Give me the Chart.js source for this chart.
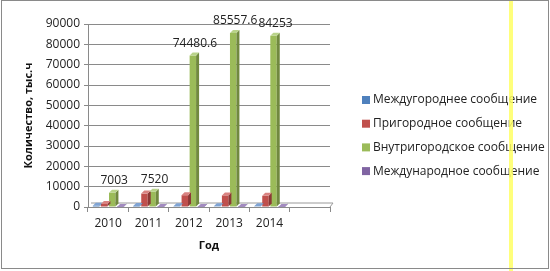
<!DOCTYPE html>
<html lang="ru">
<head>
    <meta charset="UTF-8">
    <title>Количество, тыс.ч</title>
    <style>
        html, body {
            margin: 0;
            padding: 0;
            background: #ffffff;
        }
        #wrap {
            width: 550px;
            height: 271px;
        }
    </style>
    <script src="https://cdn.jsdelivr.net/npm/chart.js"></script>
</head>
<body>
    <div id="wrap">
        <canvas id="chart" width="550" height="271"></canvas>
    </div>

    <script>
        // data
        const years = ['2010', '2011', '2012', '2013', '2014', ''];
        const seriesNames = ['Междугороднее сообщение', 'Пригородное сообщение', 'Внутригородское сообщение', 'Международное сообщение'];
        const intercity = [600, 500, 400, 350, 350];
        const suburban = [1500, 6600, 5800, 5700, 5500];
        const urban = [7003, 7520, 74480.6, 85557.6, 84253];
        const international = [40, 40, 40, 40, 40];
        const yTicks = [0, 10000, 20000, 30000, 40000, 50000, 60000, 70000, 80000, 90000];

        const colors = ['#4F81BD', '#C0504D', '#9BBB59', '#8064A2'];
        const sideColors = ['#385D8A', '#8C3836', '#71893F', '#5C4776'];
        const topColors = ['#7FA3D3', '#D98381', '#B9D38A', '#A28BC0'];
        const font = '"Open Sans", "DejaVu Sans", sans-serif';

        // fake 3D: side and top faces on each bar
        const bars3d = {
            id: 'bars3d',
            afterDatasetsDraw(chart) {
                const ctx = chart.ctx;
                const d = 3;
                chart.data.datasets.forEach((ds, i) => {
                    const meta = chart.getDatasetMeta(i);
                    meta.data.forEach(bar => {
                        const w = bar.width;
                        const l = bar.x - w / 2, r = bar.x + w / 2;
                        const t = bar.y, b = bar.base;
                        ctx.save();
                        ctx.fillStyle = sideColors[i];
                        ctx.beginPath();
                        ctx.moveTo(r, t); ctx.lineTo(r + d, t - d);
                        ctx.lineTo(r + d, b - d); ctx.lineTo(r, b);
                        ctx.closePath(); ctx.fill();
                        ctx.fillStyle = topColors[i];
                        ctx.beginPath();
                        ctx.moveTo(l, t); ctx.lineTo(l + d, t - d);
                        ctx.lineTo(r + d, t - d); ctx.lineTo(r, t);
                        ctx.closePath(); ctx.fill();
                        ctx.restore();
                    });
                });
                // value labels for the urban series
                const meta = chart.getDatasetMeta(2);
                ctx.save();
                ctx.font = '12px ' + font;
                ctx.fillStyle = '#222';
                ctx.textAlign = 'center';
                ctx.textBaseline = 'middle';
                meta.data.forEach((bar, j) => {
                    ctx.fillText(String(urban[j]), bar.x + 2, bar.y - 12);
                });
                ctx.restore();
            }
        };

        // legend, frame, floor
        const extras = {
            id: 'extras',
            beforeDraw(chart) {
                const ctx = chart.ctx;
                const a = chart.chartArea;
                ctx.save();
                ctx.strokeStyle = '#9a9a9a';
                ctx.lineWidth = 1;
                ctx.beginPath();
                ctx.moveTo(a.right, a.bottom);
                ctx.lineTo(a.right + 3, a.bottom - 4);
                ctx.lineTo(a.left + 3, a.bottom - 4);
                ctx.stroke();
                ctx.restore();
            },
            afterDraw(chart) {
                const ctx = chart.ctx;
                ctx.save();
                ctx.font = '12px ' + font;
                ctx.textBaseline = 'middle';
                seriesNames.forEach((name, i) => {
                    const y = 100 + i * 23.7;
                    ctx.fillStyle = colors[i];
                    ctx.fillRect(362, y - 4, 8, 8);
                    ctx.fillStyle = '#222';
                    ctx.fillText(name, 373, y);
                });
                ctx.fillStyle = 'rgba(255,255,100,0.85)';
                ctx.fillRect(509, 0, 4, 271);
                ctx.strokeStyle = '#8a8a8a';
                ctx.strokeRect(1.5, 0.5, 547, 268);
                ctx.restore();
            }
        };

        new Chart(document.getElementById('chart'), {
            type: 'bar',
            data: {
                labels: years,
                datasets: [
                    { label: seriesNames[0], data: intercity, backgroundColor: colors[0] },
                    { label: seriesNames[1], data: suburban, backgroundColor: colors[1] },
                    { label: seriesNames[2], data: urban, backgroundColor: colors[2] },
                    { label: seriesNames[3], data: international, backgroundColor: colors[3] }
                ]
            },
            options: {
                responsive: false,
                animation: false,
                layout: { padding: { left: 18, right: 220, top: 24, bottom: 0 } },
                datasets: { bar: { categoryPercentage: 0.8, barPercentage: 0.8 } },
                plugins: {
                    legend: { display: false },
                    tooltip: { enabled: false }
                },
                scales: {
                    x: {
                        afterFit: s => { s.height = 64; },
                        grid: { offset: true, drawOnChartArea: false, color: '#8a8a8a', tickLength: 5 },
                        border: { color: '#8a8a8a' },
                        ticks: { color: '#222', font: { family: font, size: 12 }, padding: 4 },
                        title: {
                            display: true, text: 'Год', color: '#111',
                            font: { family: font, size: 11, weight: 'bold' },
                            padding: { top: 0, bottom: 19 }
                        }
                    },
                    y: {
                        min: 0, max: 90000,
                        afterFit: s => { s.width = 70; },
                        afterBuildTicks: s => { s.ticks = yTicks.map(v => ({ value: v })); },
                        grid: { color: '#8a8a8a', tickLength: 4 },
                        border: { color: '#8a8a8a' },
                        ticks: {
                            color: '#222', font: { family: font, size: 12 }, padding: 4,
                            callback: v => String(v)
                        },
                        title: {
                            display: true, text: 'Количество, тыс.ч', color: '#111',
                            font: { family: font, size: 11, weight: 'bold' },
                            padding: { top: 4, bottom: 0 }
                        }
                    }
                }
            },
            plugins: [bars3d, extras]
        });
    </script>
</body>
</html>
